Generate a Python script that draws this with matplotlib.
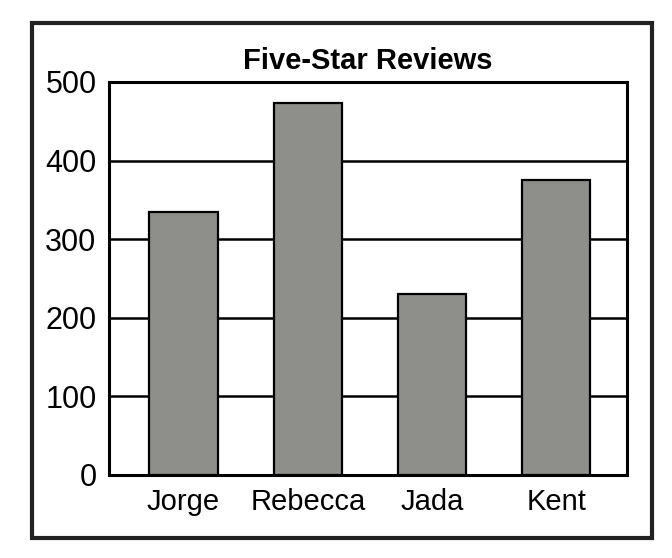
import matplotlib
matplotlib.use("Agg")
import matplotlib.pyplot as plt
from matplotlib.patches import Rectangle
from matplotlib import font_manager

names = ["Jorge", "Rebecca", "Jada", "Kent"]
values = [335, 473, 230, 375]
yticks = [0, 100, 200, 300, 400, 500]
title = "Five-Star Reviews"

avail = {f.name for f in font_manager.fontManager.ttflist}
fam = ["Liberation Sans Narrow", "Liberation Sans", "DejaVu Sans"]
fam = [f for f in fam if f in avail] or ["DejaVu Sans"]
plt.rcParams['font.family'] = fam

fig = plt.figure(figsize=(6.72, 5.58), dpi=100)
ax = fig.add_axes([109/672, 1-475/558, (627-109)/672, (475-82)/558])

x = range(len(names))
ax.bar(x, values, width=0.55, color="#8e8e8b", edgecolor="black", linewidth=1.6, zorder=3)
ax.set_xlim(-0.6, 3.57)
ax.set_ylim(0, 500)
ax.set_yticks(yticks)
ax.set_yticklabels([str(v) for v in yticks], fontsize=22)
ax.set_xticks(list(x))
ax.set_xticklabels(names, fontsize=21)
ax.tick_params(axis="both", length=0, pad=9)
ax.tick_params(axis="y", pad=9)
ax.grid(axis="y", color="black", linewidth=1.8, zorder=0)
ax.set_axisbelow(True)
for s in ax.spines.values():
    s.set_linewidth(2.2)
    s.set_color("black")
ax.set_title(title, fontsize=21, fontweight="bold", pad=9)

fig.patches.append(Rectangle((32/672, 1-538/558), (652-32)/672, (538-23)/558,
                             transform=fig.transFigure, fill=False,
                             edgecolor="#222222", linewidth=3))

fig.savefig("out.png", dpi=100)
